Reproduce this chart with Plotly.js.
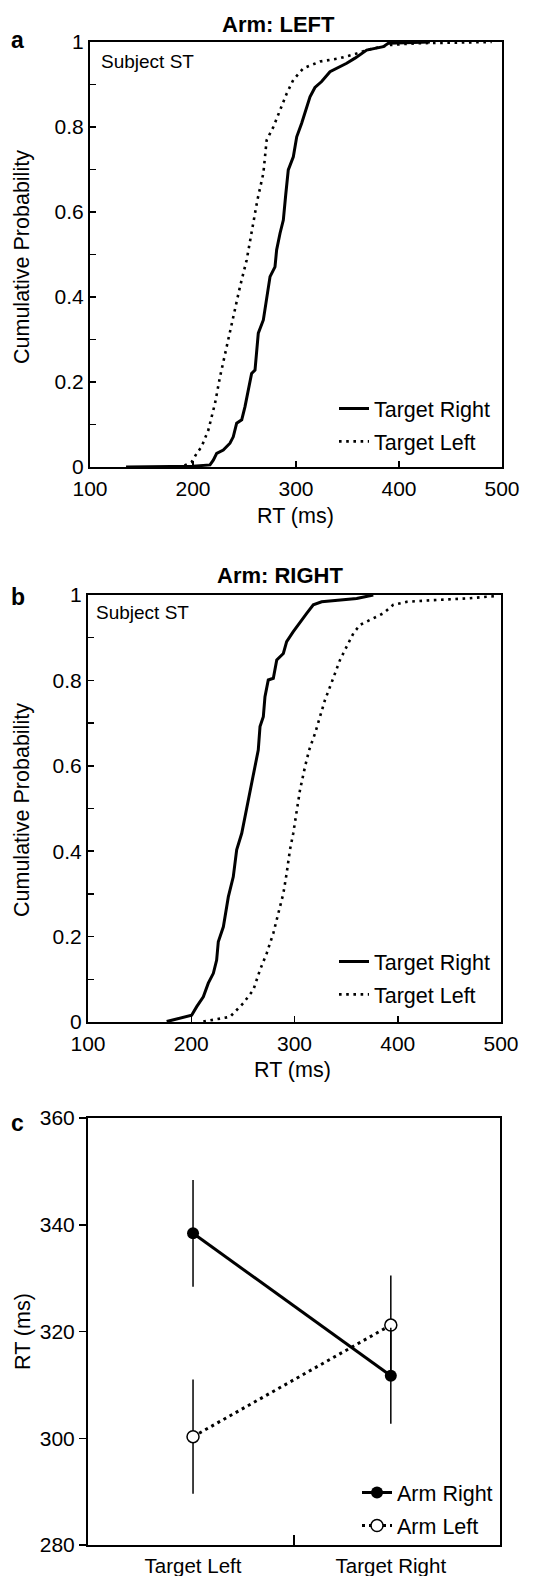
<!DOCTYPE html>
<html>
<head>
<meta charset="utf-8">
<script src="https://cdn.plot.ly/plotly-3.0.1.min.js"></script>
<style>html,body{margin:0;padding:0;background:#fff;}</style>
</head>
<body>
<div id="chart" style="width:542px;height:1576px;"></div>
<script>
// ---------- DATA ----------
// Panel a (Arm: LEFT) cumulative RT distributions
const rtA_targetRight = [135, 200, 216.5, 219.7, 223, 229.4, 235.9, 239.1, 242.4, 247.3, 250.5, 253.7, 256.9, 260.2, 261.8, 263.4, 268.3, 271.5, 274.8, 279.6, 281.2, 284.5, 287.7, 290, 292.5, 297.4, 300.7, 305.5, 308.7, 313.6, 318.4, 324.9, 333, 349.2, 357.3, 368.6, 384.8, 389.6, 430];
const cpA_targetRight = [0, 0.002, 0.005, 0.016, 0.032, 0.04, 0.056, 0.071, 0.103, 0.111, 0.142, 0.181, 0.22, 0.228, 0.283, 0.315, 0.346, 0.401, 0.448, 0.471, 0.511, 0.55, 0.581, 0.64, 0.699, 0.73, 0.777, 0.809, 0.832, 0.871, 0.893, 0.907, 0.93, 0.95, 0.962, 0.981, 0.989, 0.997, 1.0];
const rtA_targetLeft = [185, 190.6, 198.7, 203.6, 208.4, 214.9, 221.4, 226.2, 232.7, 239.1, 245.6, 252.1, 256.9, 262.5, 268.3, 271.5, 278, 284.5, 291, 297.4, 307.1, 323.3, 342.7, 358.9, 368.6, 391.3, 417.2, 490];
const cpA_targetLeft = [0, 0.002, 0.012, 0.032, 0.048, 0.087, 0.15, 0.212, 0.283, 0.354, 0.424, 0.487, 0.55, 0.628, 0.691, 0.769, 0.8, 0.84, 0.879, 0.911, 0.938, 0.954, 0.962, 0.973, 0.981, 0.993, 0.997, 1.0];

// Panel b (Arm: RIGHT)
const rtB_targetRight = [176.2, 189.1, 200.4, 205.3, 211.7, 216.5, 221.4, 224.6, 226.2, 231.1, 235.9, 240.7, 244, 248.9, 252.1, 255.3, 258.5, 261.7, 264.9, 266.6, 269.8, 271.4, 274.6, 279.5, 282.8, 289.2, 292.4, 298.8, 305.3, 311.8, 318.2, 326.3, 360.2, 376.3];
const cpB_targetRight = [0.001, 0.009, 0.016, 0.036, 0.059, 0.091, 0.114, 0.145, 0.188, 0.223, 0.293, 0.34, 0.403, 0.442, 0.481, 0.528, 0.559, 0.598, 0.637, 0.692, 0.715, 0.762, 0.801, 0.805, 0.848, 0.863, 0.891, 0.914, 0.937, 0.957, 0.977, 0.984, 0.992, 1.0];
const rtB_targetLeft = [211.7, 224.6, 237.5, 250.4, 260.1, 266.6, 273.1, 279.5, 284.3, 289.2, 292.4, 295.6, 298.8, 302.1, 305.3, 310.2, 314.2, 319.9, 324.7, 329.5, 334.4, 339.2, 344.1, 350.5, 357, 363.4, 376.3, 386, 395.7, 408.6, 434.5, 466.8, 497.4];
const cpB_targetLeft = [0.001, 0.006, 0.012, 0.044, 0.075, 0.122, 0.161, 0.208, 0.255, 0.301, 0.348, 0.403, 0.442, 0.496, 0.543, 0.598, 0.637, 0.676, 0.715, 0.754, 0.785, 0.817, 0.848, 0.879, 0.91, 0.93, 0.945, 0.957, 0.977, 0.984, 0.988, 0.992, 0.998];

// Panel c mean RT +/- error
const categoriesC = ['Target Left', 'Target Right'];
const armRightMean = [338.4, 311.7];
const armRightErr = [10, 9];
const armLeftMean = [300.3, 321.2];
const armLeftErr = [10.7, 9.3];

// Tick labels
const rtTicks = [100, 200, 300, 400, 500];
const probTickVals = [0, 0.1, 0.2, 0.3, 0.4, 0.5, 0.6, 0.7, 0.8, 0.9, 1];
const probTickText = ['0', '', '0.2', '', '0.4', '', '0.6', '', '0.8', '', '1'];
const rtMeanTicks = [280, 300, 320, 340, 360];

// ---------- LAYOUT HELPERS ----------
const W = 542, H = 1576;
const fx = p => p / W;
const fy = p => 1 - p / H;
const FONT = 'Liberation Sans, Arial, Helvetica, sans-serif';

const solidLine = {color: '#000', width: 3};
const dotLine = {color: '#000', width: 2.6, dash: '2.6px,4.6px'};

const traces = [
  {x: rtA_targetRight, y: cpA_targetRight, name: 'Target Right', mode: 'lines', line: solidLine, xaxis: 'x', yaxis: 'y', legend: 'legend', legendgroup: 'a1'},
  {x: rtA_targetLeft, y: cpA_targetLeft, name: 'Target Left', mode: 'lines', line: dotLine, xaxis: 'x', yaxis: 'y', legend: 'legend', legendgroup: 'a2'},
  {x: rtB_targetRight, y: cpB_targetRight, name: 'Target Right', mode: 'lines', line: solidLine, xaxis: 'x2', yaxis: 'y2', legend: 'legend2', legendgroup: 'b1'},
  {x: rtB_targetLeft, y: cpB_targetLeft, name: 'Target Left', mode: 'lines', line: dotLine, xaxis: 'x2', yaxis: 'y2', legend: 'legend2', legendgroup: 'b2'},
  {x: categoriesC.map((c, i) => i), y: armLeftMean, name: 'Arm Left', mode: 'lines+markers',
   line: {color: '#000', width: 3, dash: '3px,4px'},
   marker: {symbol: 'circle', size: 12, color: '#fff', line: {color: '#000', width: 1.5}},
   error_y: {type: 'data', array: armLeftErr, visible: true, width: 0, thickness: 1.5, color: '#000'},
   xaxis: 'x3', yaxis: 'y3', legend: 'legend3', legendgroup: 'c2', legendrank: 2},
  {x: categoriesC.map((c, i) => i), y: armRightMean, name: 'Arm Right', mode: 'lines+markers',
   line: {color: '#000', width: 3},
   marker: {symbol: 'circle', size: 12, color: '#000'},
   error_y: {type: 'data', array: armRightErr, visible: true, width: 0, thickness: 1.5, color: '#000'},
   xaxis: 'x3', yaxis: 'y3', legend: 'legend3', legendgroup: 'c1', legendrank: 1}
];

const baseAxis = {
  showline: true, mirror: true, linewidth: 2, linecolor: '#000',
  showgrid: false, zeroline: false, ticks: 'inside', ticklen: 6, tickwidth: 1.5, tickcolor: '#000',
  tickfont: {family: FONT, size: 21, color: '#000'}, fixedrange: true
};

const cRange = [-0.531, 1.552];
const cMid = (cRange[0] + cRange[1]) / 2;

const legendBase = {
  font: {family: FONT, size: 21.5, color: '#000'}, bgcolor: 'rgba(0,0,0,0)', borderwidth: 0,
  xanchor: 'left', yanchor: 'top', traceorder: 'grouped', tracegroupgap: 2, itemwidth: 30
};

const ann = (text, x, y, size, opts) => Object.assign({
  text: text, x: fx(x), y: fy(y), xref: 'paper', yref: 'paper', showarrow: false,
  xanchor: 'center', yanchor: 'middle', font: {family: FONT, size: size, color: '#000'}
}, opts || {});

const layout = {
  width: W, height: H, margin: {l: 0, r: 0, t: 0, b: 0},
  paper_bgcolor: '#fff', plot_bgcolor: 'rgba(0,0,0,0)',
  font: {family: FONT, color: '#000'},
  xaxis: Object.assign({}, baseAxis, {domain: [fx(90), fx(502)], range: [100, 500], tickvals: rtTicks, anchor: 'y', ticklabelstandoff: 2}),
  yaxis: Object.assign({}, baseAxis, {domain: [fy(467), fy(42)], range: [0, 1], tickvals: probTickVals, ticktext: probTickText, anchor: 'x'}),
  xaxis2: Object.assign({}, baseAxis, {domain: [fx(88), fx(501)], range: [100, 500], tickvals: rtTicks, anchor: 'y2', ticklabelstandoff: 2}),
  yaxis2: Object.assign({}, baseAxis, {domain: [fy(1022), fy(595)], range: [0, 1], tickvals: probTickVals, ticktext: probTickText, anchor: 'x2'}),
  xaxis3: Object.assign({}, baseAxis, {domain: [fx(88), fx(500)], range: cRange, tickvals: categoriesC.map((c, i) => i), ticktext: categoriesC, ticks: '', anchor: 'y3',
    tickfont: {family: FONT, size: 20.5, color: '#000'}, ticklabelstandoff: 1,
    minor: {tickvals: [cMid], ticks: 'inside', ticklen: 10, tickwidth: 1.5, tickcolor: '#000', showgrid: false}}),
  yaxis3: Object.assign({}, baseAxis, {domain: [fy(1545), fy(1118)], range: [280, 360], tickvals: rtMeanTicks, ticks: 'outside', ticklen: 7, anchor: 'x3'}),
  showlegend: true,
  legend: Object.assign({}, legendBase, {x: fx(334), y: fy(388)}),
  legend2: Object.assign({}, legendBase, {x: fx(334), y: fy(388 + 553)}),
  legend3: Object.assign({}, legendBase, {x: fx(357), y: fy(1472)}),
  annotations: [
    ann('<b>Arm: LEFT</b>', 278, 25, 22),
    ann('<b>Arm: RIGHT</b>', 280, 575, 22),
    ann('<b>a</b>', 17, 40, 23),
    ann('<b>b</b>', 18, 597, 23),
    ann('<b>c</b>', 17, 1123, 23),
    ann('Subject ST', 99, 62, 19, {xanchor: 'left'}),
    ann('Subject ST', 94, 612, 19, {xanchor: 'left'}),
    ann('RT (ms)', 295, 516, 21.5),
    ann('RT (ms)', 292, 1070, 21.5),
    ann('Cumulative Probability', 22, 257, 21.5, {textangle: -90}),
    ann('Cumulative Probability', 22, 810, 21.5, {textangle: -90}),
    ann('RT (ms)', 23, 1332, 21.5, {textangle: -90})
  ]
};

Plotly.newPlot('chart', traces, layout, {displayModeBar: false, staticPlot: true});
</script>
</body>
</html>
